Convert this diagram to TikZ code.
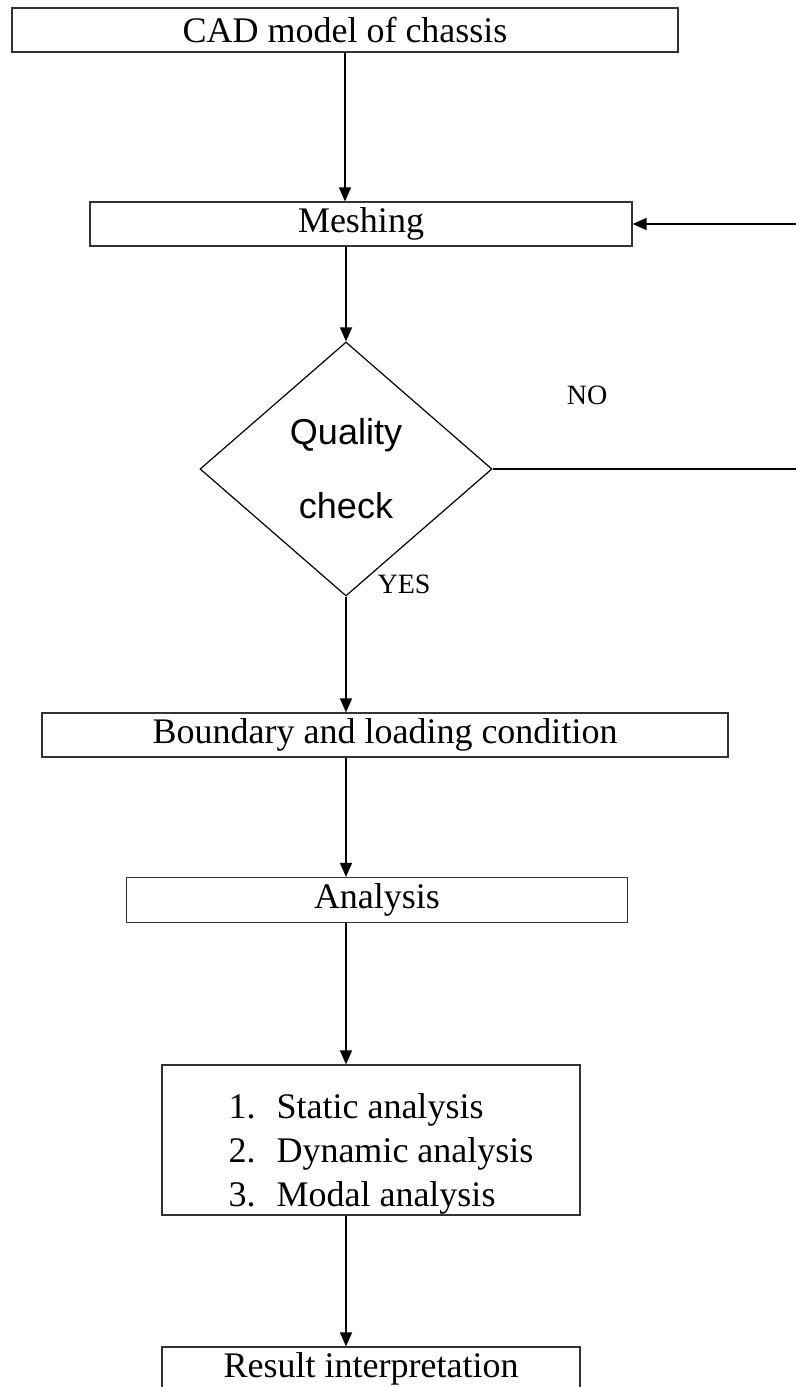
\documentclass[tikz,border=0pt]{standalone}
\usepackage{fontspec}
\setmainfont{Liberation Serif}
\newfontfamily\qcfont{Liberation Sans}
\usetikzlibrary{shapes.geometric,arrows.meta}

\tikzset{
	box/.style={draw=black!80,line width=0.6pt,rectangle,minimum height=22pt,inner sep=0pt,font=\fontsize{18}{22}\selectfont},
	decision/.style={draw,line width=0.6pt,diamond,minimum width=146pt,minimum height=127pt,inner sep=0pt,align=center,font=\qcfont\fontsize{18}{37}\selectfont},
	lbl/.style={font=\fontsize{14}{16}\selectfont},
	flow/.style={line width=0.75pt,-{Triangle[length=7pt,width=6pt]}}
}

\begin{document}
\begin{tikzpicture}[x=0.5pt,y=-0.5pt]
			\clip (0,0) rectangle (796,1387);
			\node[box,minimum width=333pt] (cad) at (345,30) {CAD model of chassis};
			\node[box,minimum width=271pt] (mesh) at (361,224) {Meshing};
			\node[decision] (qc) at (346,469) {Quality\\check};
			\node[lbl] (no) at (587,395) {NO};
			\node[lbl] (yes) at (404,584) {YES};
			\node[box,minimum width=343pt] (bnd) at (385,735) {Boundary and loading condition};
			\node[box,minimum width=250.5pt,minimum height=22.5pt] (ana) at (377,900) {Analysis};
			\node[box,minimum width=209pt,minimum height=75pt] (types) at (371,1140) {\raisebox{-11pt}[0pt][0pt]{\hspace*{10pt}\begin{tabular}{@{}l@{}}
				\makebox[24pt][l]{1.}Static analysis\\
				\makebox[24pt][l]{2.}Dynamic analysis\\
				\makebox[24pt][l]{3.}Modal analysis
			\end{tabular}}};
			\node[box,minimum width=209pt] (res) at (371,1369) {Result interpretation};
			\coordinate (back) at (830,350);

			\draw[flow] (cad.south) -- (mesh.north -| cad.south);
			\draw[flow] (mesh.south -| qc.north) -- (qc.north);
			\draw[flow] (qc.east) -| (back) |- (mesh.east);
			\draw[flow] (qc.south) -- (bnd.north -| qc.south);
			\draw[flow] (bnd.south -| qc.south) -- (ana.north -| qc.south);
			\draw[flow] (ana.south -| qc.south) -- (types.north -| qc.south);
			\draw[flow] (types.south -| qc.south) -- (res.north -| qc.south);
		\end{tikzpicture}
\end{document}
